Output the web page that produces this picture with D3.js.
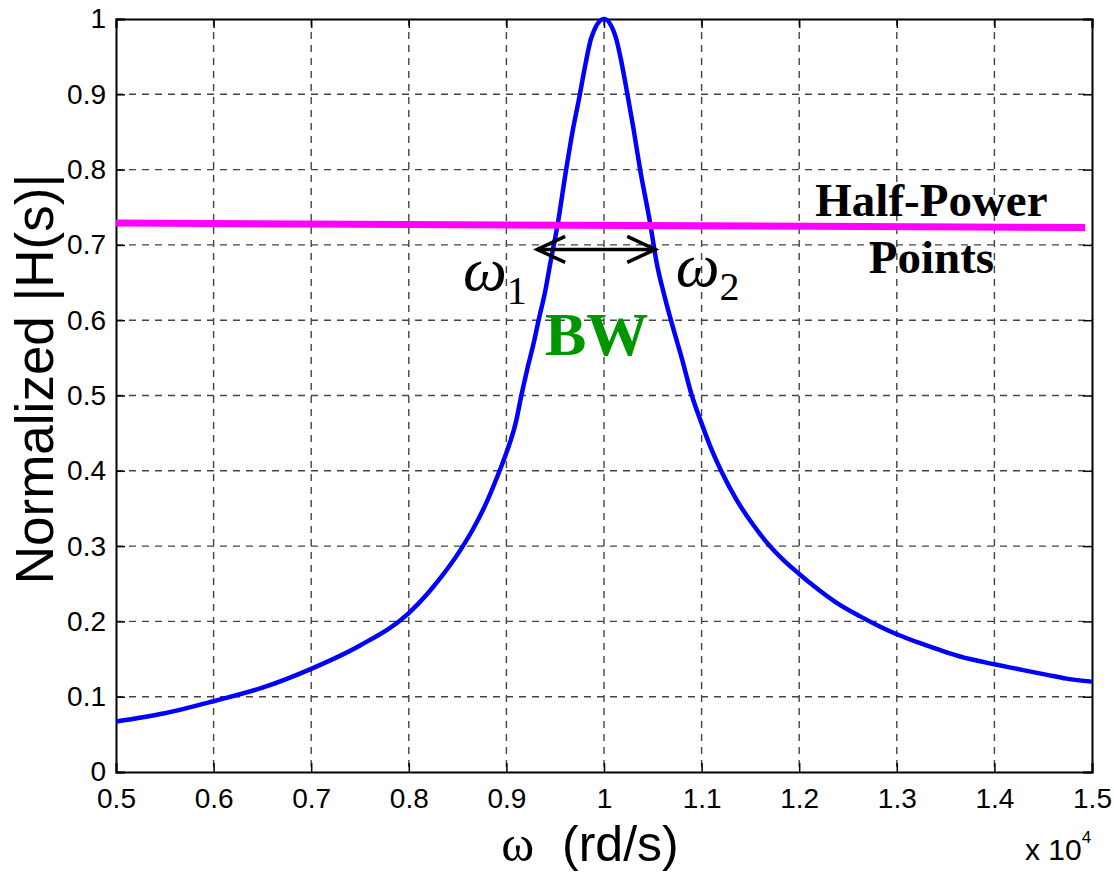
<!DOCTYPE html>
<html>
<head>
<meta charset="utf-8">
<script src="https://cdn.jsdelivr.net/npm/d3@7"></script>
<style>
  body { margin: 0; background: #fff; }
  svg { display: block; }
</style>
</head>
<body>
<svg id="chart" width="1114" height="873"></svg>
<script>
// omega in units of 1e4 rd/s
var omega = [0.50, 0.55, 0.60, 0.65, 0.70, 0.75, 0.80, 0.82, 0.832, 0.852, 0.866, 0.880, 0.893, 0.900,
             0.910, 0.915, 0.921, 0.928, 0.933, 0.940, 0.945, 0.953, 0.960, 0.968, 0.975, 0.981, 0.987, 1.000,
             1.012, 1.018, 1.024, 1.030, 1.037, 1.047, 1.054, 1.062, 1.069, 1.080, 1.090, 1.100, 1.109, 1.120,
             1.136, 1.153, 1.172, 1.185, 1.200, 1.215, 1.238, 1.262, 1.283, 1.300, 1.324, 1.351, 1.375, 1.400,
             1.427, 1.454, 1.474, 1.500];
var magH  = [0.067, 0.078, 0.094, 0.112, 0.137, 0.168, 0.211, 0.238, 0.257, 0.293, 0.323, 0.359, 0.400, 0.424,
             0.466, 0.498, 0.533, 0.570, 0.600, 0.640, 0.676, 0.731, 0.790, 0.852, 0.898, 0.940, 0.975, 1.000,
             0.976, 0.942, 0.900, 0.856, 0.800, 0.731, 0.676, 0.632, 0.598, 0.548, 0.500, 0.463, 0.432, 0.400,
             0.361, 0.328, 0.297, 0.280, 0.263, 0.247, 0.225, 0.207, 0.193, 0.183, 0.171, 0.159, 0.150, 0.143,
             0.136, 0.129, 0.124, 0.120];

var xTicks = [0.5, 0.6, 0.7, 0.8, 0.9, 1.0, 1.1, 1.2, 1.3, 1.4, 1.5];
var yTicks = [0, 0.1, 0.2, 0.3, 0.4, 0.5, 0.6, 0.7, 0.8, 0.9, 1];

// hand drawn half-power line and bandwidth arrow
var halfPowerX = [0.5, 1.493];
var halfPowerY = [0.729, 0.723];
var bwArrowX = [0.9315, 1.0525];
var bwArrowY = 0.694;

var margin = {top: 19, right: 22, bottom: 101, left: 116},
    width = 1114 - margin.left - margin.right,
    height = 873 - margin.top - margin.bottom;

var x = d3.scaleLinear().domain([0.5, 1.5]).range([0, width]);
var y = d3.scaleLinear().domain([0, 1]).range([height, 0]);

var svg = d3.select("#chart");
var chart = svg.append("g")
    .attr("transform", "translate(" + margin.left + "," + margin.top + ")");

// grid
chart.append("g").selectAll("line")
    .data(xTicks.slice(1, -1))
  .enter().append("line")
    .attr("x1", function(d) { return x(d); })
    .attr("x2", function(d) { return x(d); })
    .attr("y1", 0).attr("y2", height)
    .attr("stroke", "#444").attr("stroke-width", 1.4)
    .attr("stroke-dasharray", "7,6");

chart.append("g").selectAll("line")
    .data(yTicks.slice(1, -1))
  .enter().append("line")
    .attr("y1", function(d) { return y(d); })
    .attr("y2", function(d) { return y(d); })
    .attr("x1", 0).attr("x2", width)
    .attr("stroke", "#444").attr("stroke-width", 1.4)
    .attr("stroke-dasharray", "7,6");

// axes with inward ticks, matlab style
var fmt = function(d) { return d3.format("")(+d.toFixed(1)); };
var xAxis = d3.axisBottom(x).tickValues(xTicks).tickSize(-9).tickPadding(16).tickFormat(fmt);
var yAxis = d3.axisLeft(y).tickValues(yTicks).tickSize(-9).tickPadding(10).tickFormat(fmt);

chart.append("g")
    .attr("transform", "translate(0," + height + ")")
    .call(xAxis);
chart.append("g").call(yAxis);
chart.append("g").call(d3.axisTop(x).tickValues(xTicks).tickSize(-9).tickFormat(""));
chart.append("g").attr("transform", "translate(" + width + ",0)")
    .call(d3.axisRight(y).tickValues(yTicks).tickSize(-9).tickFormat(""));

chart.selectAll(".domain").attr("stroke", "#000").attr("stroke-width", 2);
chart.selectAll(".tick line").attr("stroke", "#000").attr("stroke-width", 1.5);
chart.selectAll(".tick text")
    .attr("font-family", "Liberation Sans, Arial, sans-serif")
    .attr("font-size", 28).attr("fill", "#000");

// response curve
var pts = omega.map(function(w, i) { return [w, magH[i]]; });
var line = d3.line()
    .x(function(d) { return x(d[0]); })
    .y(function(d) { return y(d[1]); })
    .curve(d3.curveMonotoneX);

chart.append("path")
    .datum(pts)
    .attr("fill", "none")
    .attr("stroke", "#0000ff")
    .attr("stroke-width", 4.5)
    .attr("stroke-linejoin", "round")
    .attr("d", line);

// half-power line
chart.append("line")
    .attr("x1", x(halfPowerX[0])).attr("y1", y(halfPowerY[0]))
    .attr("x2", x(halfPowerX[1])).attr("y2", y(halfPowerY[1]))
    .attr("stroke", "#ff00ff").attr("stroke-width", 7);

// bandwidth arrow
var ay = y(bwArrowY), ax1 = x(bwArrowX[0]), ax2 = x(bwArrowX[1]);
var arrow = chart.append("g").attr("stroke", "#000").attr("stroke-width", 3.5)
    .attr("fill", "none").attr("stroke-linecap", "butt");
arrow.append("line").attr("x1", ax1).attr("x2", ax2).attr("y1", ay).attr("y2", ay);
arrow.append("path").attr("d", "M" + (ax1 + 28) + "," + (ay - 13) + "L" + ax1 + "," + ay + "L" + (ax1 + 28) + "," + (ay + 13));
arrow.append("path").attr("d", "M" + (ax2 - 28) + "," + (ay - 13) + "L" + ax2 + "," + ay + "L" + (ax2 - 28) + "," + (ay + 13));

// annotations
var serif = "Liberation Serif, Times New Roman, serif";
var w1 = chart.append("text").attr("x", x(0.8555)).attr("y", y(0.64))
    .attr("font-family", serif).attr("font-size", 62).attr("font-style", "italic");
w1.append("tspan").text("ω");
w1.append("tspan").attr("font-size", 40).attr("font-style", "normal").attr("dy", 14).text("1");

var w2 = chart.append("text").attr("x", x(1.0735)).attr("y", y(0.645))
    .attr("font-family", serif).attr("font-size", 62).attr("font-style", "italic");
w2.append("tspan").text("ω");
w2.append("tspan").attr("font-size", 40).attr("font-style", "normal").attr("dy", 14).text("2");

chart.append("text").attr("x", x(0.9925)).attr("y", y(0.554))
    .attr("text-anchor", "middle")
    .attr("font-family", serif).attr("font-size", 62).attr("font-weight", "bold")
    .attr("fill", "#009600").text("BW");

chart.append("text").attr("x", x(1.3355)).attr("y", y(0.738))
    .attr("text-anchor", "middle")
    .attr("font-family", serif).attr("font-size", 47).attr("font-weight", "bold")
    .text("Half-Power");
chart.append("text").attr("x", x(1.3355)).attr("y", y(0.663))
    .attr("text-anchor", "middle")
    .attr("font-family", serif).attr("font-size", 47).attr("font-weight", "bold")
    .text("Points");

// axis labels
var sans = "Liberation Sans, Arial, sans-serif";
svg.append("text")
    .attr("transform", "translate(53,379) rotate(-90)")
    .attr("text-anchor", "middle")
    .attr("font-family", sans).attr("font-size", 53)
    .text("Normalized |H(s)|");

var xl = svg.append("text").attr("x", 590).attr("y", 861)
    .attr("text-anchor", "middle")
    .attr("font-family", sans).attr("font-size", 50);
xl.append("tspan").attr("font-family", serif).text("ω");
xl.append("tspan").attr("xml:space", "preserve").text("  (rd/s)");

var ex = svg.append("text").attr("x", 1025).attr("y", 860)
    .attr("font-family", sans).attr("font-size", 30);
ex.append("tspan").text("x 10");
ex.append("tspan").attr("font-size", 17).attr("dy", -17).text("4");
</script>
</body>
</html>
